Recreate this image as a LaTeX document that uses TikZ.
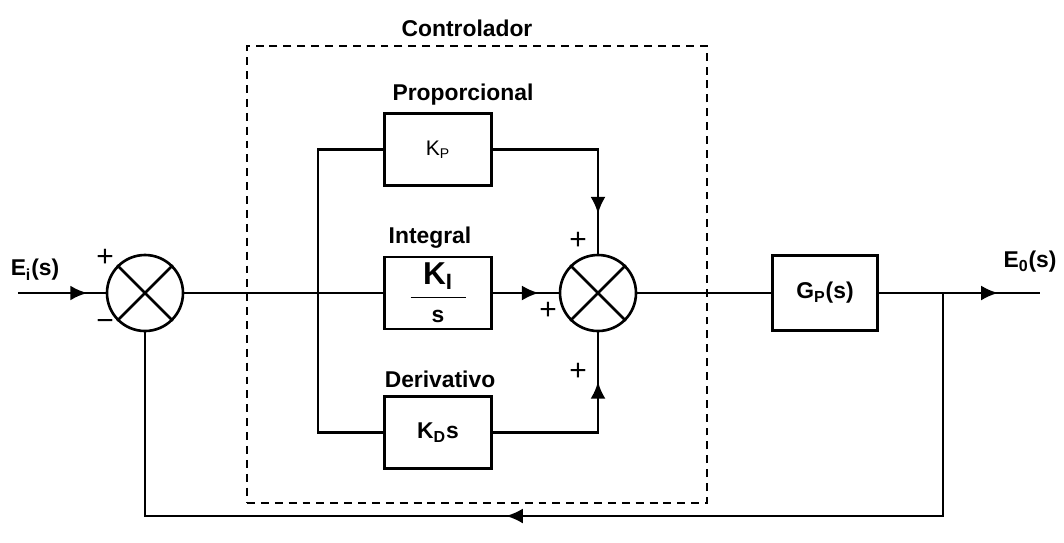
\documentclass[tikz,border=0pt]{standalone}
\usepackage{fontspec}
\setmainfont{Liberation Sans}
\usetikzlibrary{arrows.meta,positioning,decorations.markings}

\tikzset{
  block/.style={draw, line width=1.5pt, minimum width=2.14cm, minimum height=1.44cm, inner sep=0pt},
  sumnode/.style={draw, circle, line width=1.5pt, minimum size=1.52cm, inner sep=0pt},
  sig/.style={line width=1.5pt},
  sign/.style={font=\fontsize{17}{19}\selectfont\mdseries},
  arrowat/.style={postaction={decorate}, decoration={markings,
      mark=at position #1 with {\arrow{Latex[length=3.4mm,width=3mm]}}}}
}

\begin{document}
\begin{tikzpicture}[node distance=1.3cm, every node/.style={font=\fontsize{13}{15}\selectfont\bfseries}]
    \useasboundingbox (-2.9,-4.98) rectangle (18.38,5.86);
    % summing junctions and blocks
    \node[sumnode] (sum1) at (0,0) {};
    \draw[sig] (sum1.north west) -- (sum1.south east);
    \draw[sig] (sum1.south west) -- (sum1.north east);
    \node[block] (ki) at (5.86,0) {\shortstack{\fontsize{18}{18}\selectfont K\textsubscript{I}\\[1pt]\rule{1.1cm}{0.8pt}\\[4pt]s}};
    \node[block, above=1.38cm of ki] (kp) {\fontsize{12}{14}\selectfont\mdseries K\textsubscript{P}};
    \node[block, below=1.3cm of ki] (kd) {K\textsubscript{D}s};
    \node[sumnode] (sum2) at (9.06,0) {};
    \draw[sig] (sum2.north west) -- (sum2.south east);
    \draw[sig] (sum2.south west) -- (sum2.north east);
    \node[block, minimum width=2.1cm, minimum height=1.5cm] (gp) at (13.6,0) {G\textsubscript{P}(s)};
    % controller frame
    \node[draw, dash pattern=on 4.5pt off 3.4pt, line width=1.1pt, minimum width=9.2cm, minimum height=9.14cm] (ctrl) at (6.64,0.37) {};
    \node (ctrllbl) at (6.44,5.3) {Controlador};
    \node[above=0.02cm of kp, xshift=0.5cm] (plbl) {Proporcional};
    \node[above=0.02cm of ki, xshift=-0.16cm] (ilbl) {Integral};
    \node[above=0.02cm of kd, xshift=0.04cm] (dlbl) {Derivativo};
    % signals
    \coordinate (in) at (-2.54,0);
    \coordinate (br) at (3.46,0);
    \coordinate (fb) at (15.96,0);
    \coordinate (bot) at (15.96,-4.46);
    \coordinate (out) at (17.9,0);
    \node (ei) at (-2.2,0.46) {E\textsubscript{i}(s)};
    \node (eo) at (17.7,0.62) {E\textsubscript{0}(s)};
    \draw[sig, arrowat=0.79] (in) -- (sum1.west);
    \draw[sig] (sum1.east) -- (ki.west);
    \draw[sig] (kp.west) -| (br) |- (kd.west);
    \draw[sig, arrowat=0.81] (kp.east) -| (sum2.north);
    \draw[sig, arrowat=0.7] (ki.east) -- (sum2.west);
    \draw[sig, arrowat=0.76] (kd.east) -| (sum2.south);
    \draw[sig] (sum2.east) -- (gp.west);
    \draw[sig, arrowat=0.74] (gp.east) -- (out);
    \draw[sig, arrowat=0.548] (fb) -- (bot) -| (sum1.south);
    % signs
    \node[sign] (s1p) at (-0.8,0.7) {+};
    \node[sign] (s1m) at (-0.8,-0.64) {−};
    \node[sign] (s2t) at (8.66,1.04) {+};
    \node[sign] (s2l) at (8.06,-0.36) {+};
    \node[sign] (s2b) at (8.66,-1.58) {+};
\end{tikzpicture}
\end{document}
